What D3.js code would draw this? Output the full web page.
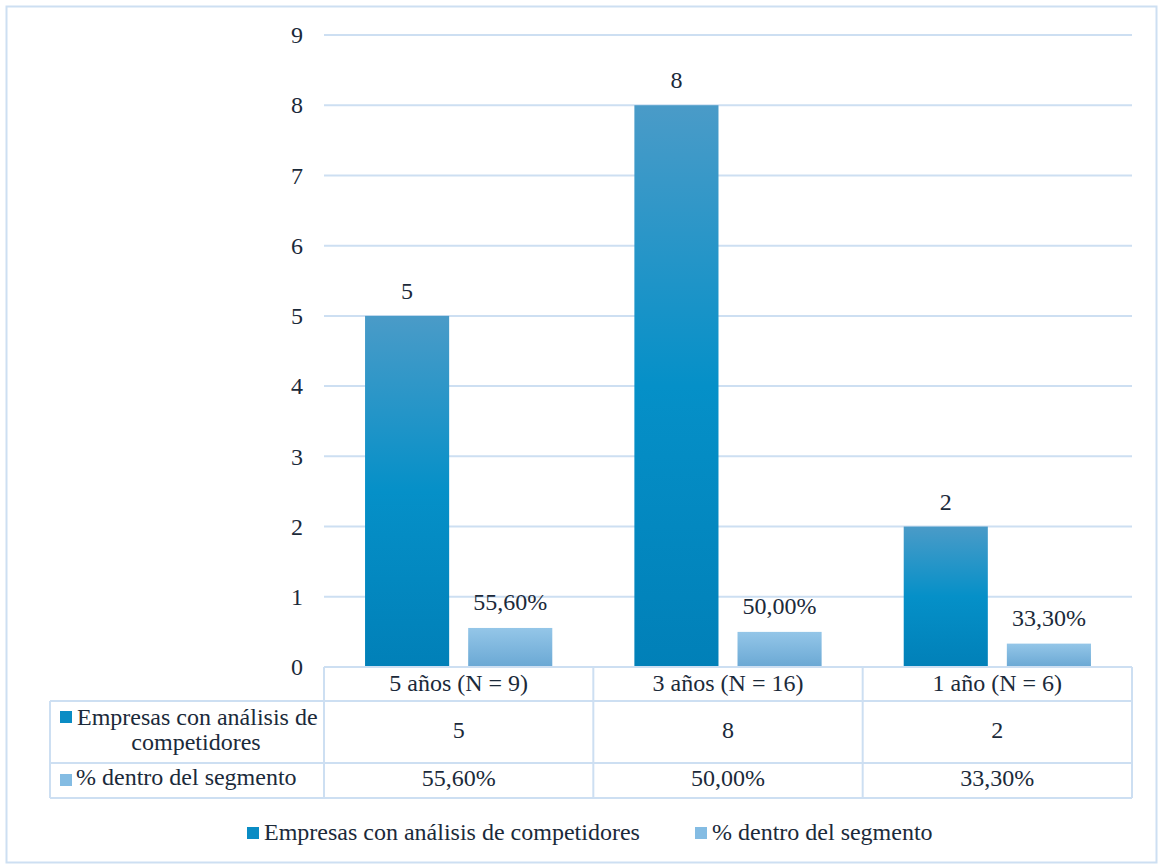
<!DOCTYPE html>
<html>
<head>
<meta charset="utf-8">
<script src="https://cdn.jsdelivr.net/npm/d3@7"></script>
<style>
  html, body { margin: 0; padding: 0; background: #fff; }
</style>
</head>
<body>
<svg id="chart" width="1158" height="864"></svg>
<script>
// Segments by company age
const categories = ["5 años (N = 9)", "3 años (N = 16)", "1 año (N = 6)"];
const seriesNames = ["Empresas con análisis de competidores", "% dentro del segmento"];
const companies = [5, 8, 2];
const shares = [0.556, 0.5, 0.333];
const shareLabels = ["55,60%", "50,00%", "33,30%"];
const yTicks = [0, 1, 2, 3, 4, 5, 6, 7, 8, 9];

const INK = "#1b2a3a";
const svg = d3.select("#chart");
const gridColor = "#cddff2";
const margin = { left: 324, right: 1132, top: 35, bottom: 667 };

function label(sel) {
  return sel.style("font-family", "'Liberation Serif'").style("font-size", "24px").style("fill", INK);
}

// Gradients for the two series
const defs = svg.append("defs");
const g1 = defs.append("linearGradient").attr("id", "gradA").attr("x1", 0).attr("y1", 0).attr("x2", 0).attr("y2", 1);
g1.append("stop").attr("offset", "0%").attr("stop-color", "#4a9bc8");
g1.append("stop").attr("offset", "50%").attr("stop-color", "#0590c8");
g1.append("stop").attr("offset", "100%").attr("stop-color", "#0180b8");
const g2 = defs.append("linearGradient").attr("id", "gradB").attr("x1", 0).attr("y1", 0).attr("x2", 0).attr("y2", 1);
g2.append("stop").attr("offset", "0%").attr("stop-color", "#94c6e8");
g2.append("stop").attr("offset", "100%").attr("stop-color", "#6aa8d4");
const fills = ["url(#gradA)", "url(#gradB)"];
const swatch = ["#0a8cc4", "#84bce3"];

// Outer frame
svg.append("rect").attr("x", 6.5).attr("y", 6.5).attr("width", 1150).attr("height", 856)
  .attr("fill", "none").attr("stroke", gridColor).attr("stroke-width", 2);

const x = d3.scaleBand().domain(categories).range([margin.left, margin.right]);
const y = d3.scaleLinear().domain([0, 9]).range([margin.bottom, margin.top]);
const inner = d3.scaleBand().domain([0, 1]).range([0, x.bandwidth()]).paddingInner(0.1845).paddingOuter(0.398);

// Gridlines
svg.append("g").selectAll("line").data(yTicks.filter(d => d > 0)).join("line")
  .attr("x1", margin.left).attr("x2", margin.right)
  .attr("y1", d => y(d)).attr("y2", d => y(d))
  .attr("stroke", gridColor).attr("stroke-width", 2);

// Y axis labels
const yAxis = d3.axisLeft(y).tickValues(yTicks).tickSize(0).tickPadding(21);
const ya = svg.append("g").attr("transform", `translate(${margin.left},0)`).call(yAxis)
  .attr("font-family", null).attr("font-size", null);
ya.select(".domain").remove();
label(ya.selectAll("text"));

// Bars
const groups = svg.append("g").selectAll("g").data(categories).join("g")
  .attr("transform", d => `translate(${x(d)},0)`);
groups.append("rect")
  .attr("x", inner(0)).attr("width", inner.bandwidth())
  .attr("y", (d, i) => y(companies[i])).attr("height", (d, i) => y(0) - y(companies[i]))
  .attr("fill", fills[0]);
groups.append("rect")
  .attr("x", inner(1)).attr("width", inner.bandwidth())
  .attr("y", (d, i) => y(shares[i])).attr("height", (d, i) => y(0) - y(shares[i]))
  .attr("fill", fills[1]);

// Value labels
label(groups.append("text")
  .attr("x", inner(0) + inner.bandwidth() / 2)
  .attr("y", (d, i) => y(companies[i]) - 17)
  .attr("text-anchor", "middle")
  .text((d, i) => companies[i]));
label(groups.append("text")
  .attr("x", inner(1) + inner.bandwidth() / 2)
  .attr("y", (d, i) => y(shares[i]) - 18)
  .attr("text-anchor", "middle")
  .text((d, i) => shareLabels[i]));

// Data table
const rowY = [667, 701, 763, 798];
const tableLeft = 50;
const tbl = svg.append("g").attr("stroke", gridColor).attr("stroke-width", 2);
tbl.append("line").attr("x1", margin.left).attr("x2", margin.right).attr("y1", rowY[0]).attr("y2", rowY[0]);
[rowY[1], rowY[2], rowY[3]].forEach(yy =>
  tbl.append("line").attr("x1", tableLeft).attr("x2", margin.right).attr("y1", yy).attr("y2", yy));
tbl.append("line").attr("x1", tableLeft).attr("x2", tableLeft).attr("y1", rowY[1]).attr("y2", rowY[3]);
categories.forEach(c => {
  tbl.append("line").attr("x1", x(c)).attr("x2", x(c)).attr("y1", rowY[0]).attr("y2", rowY[3]);
});
tbl.append("line").attr("x1", margin.right).attr("x2", margin.right).attr("y1", rowY[0]).attr("y2", rowY[3]);

// Header labels
label(svg.append("g").selectAll("text").data(categories).join("text")
  .attr("x", d => x(d) + x.bandwidth() / 2).attr("y", 691)
  .attr("text-anchor", "middle").text(d => d));
// Row 1 values
label(svg.append("g").selectAll("text").data(companies).join("text")
  .attr("x", (d, i) => x(categories[i]) + x.bandwidth() / 2).attr("y", 738)
  .attr("text-anchor", "middle").text(d => d));
// Row 2 values
label(svg.append("g").selectAll("text").data(shareLabels).join("text")
  .attr("x", (d, i) => x(categories[i]) + x.bandwidth() / 2).attr("y", 786)
  .attr("text-anchor", "middle").text(d => d));

// Row headers with legend keys
svg.append("rect").attr("x", 60).attr("y", 711).attr("width", 12).attr("height", 12).attr("fill", swatch[0]);
label(svg.append("text").attr("x", 77).attr("y", 725).text("Empresas con análisis de"));
label(svg.append("text").attr("x", 196).attr("y", 750).attr("text-anchor", "middle").text("competidores"));
svg.append("rect").attr("x", 60).attr("y", 774).attr("width", 12).attr("height", 12).attr("fill", swatch[1]);
label(svg.append("text").attr("x", 76).attr("y", 785).text(seriesNames[1]));

// Legend
const legendX = [247, 695];
const lg = svg.append("g").selectAll("g").data(seriesNames).join("g")
  .attr("transform", (d, i) => `translate(${legendX[i]},827)`);
lg.append("rect").attr("x", 0).attr("y", 0).attr("width", 12).attr("height", 12).attr("fill", (d, i) => swatch[i]);
label(lg.append("text").attr("x", 17).attr("y", 13).text(d => d));
</script>
</body>
</html>
